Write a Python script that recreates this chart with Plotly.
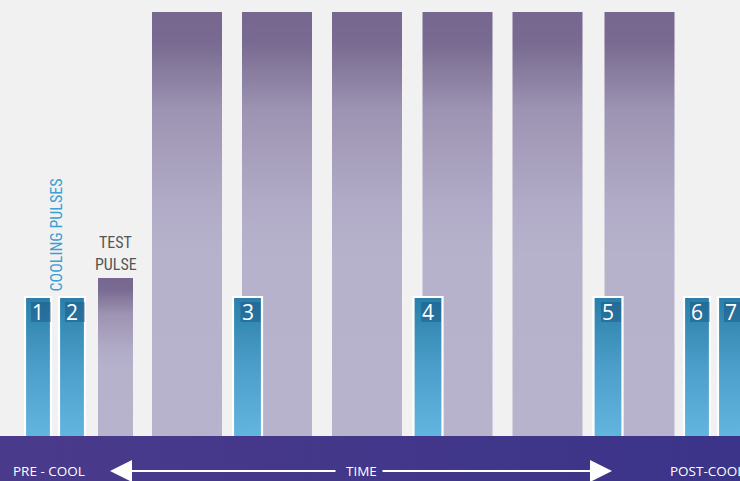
import plotly.graph_objects as go

# ---- data ----
pulse_labels = ["1", "2", "3", "4", "5", "6", "7"]
pulse_times = [38, 72, 247.5, 428, 608, 697, 731]
pulse_widths = [26, 26, 29, 29, 29, 26, 26]
pulse_heights = [139, 139, 139, 139, 139, 139, 139]

treat_times = [187, 277, 367, 457.5, 547.5, 639.5]
treat_width = 70
treat_height = 424

test_time = 115.5
test_width = 35
test_height = 158

band_depth = 45
timeline_start = 0
timeline_end = 740

PURPLE_SCALE = [[0, "#b8b3cd"], [0.42, "#b7b2cc"], [0.56, "#b0aac6"],
                [0.77, "#9d93b2"], [0.93, "#786a90"], [1, "#776790"]]
BLUE_SCALE = [[0, "#62b5df"], [0.5, "#4a9ec9"], [1, "#2a7fa8"]]

fig = go.Figure()


def rect(xc, w, h, scale, line=None, base=0):
    l, r = xc - w / 2, xc + w / 2
    if line:
        xs, ys = [l, l, r, r], [base, h, h, base]
    else:
        xs, ys = [l, l, r, r, l], [base, h, h, base, base]
    fig.add_trace(go.Scatter(
        x=xs, y=ys, fill="toself", mode="lines",
        line=dict(color=line or "rgba(0,0,0,0)", width=2.2 if line else 0),
        fillgradient=dict(type="vertical", colorscale=scale),
        hoverinfo="skip", showlegend=False))


# treatment pulses (tall purple)
for xc in treat_times:
    rect(xc, treat_width, treat_height, PURPLE_SCALE)
# test pulse
rect(test_time, test_width, test_height, PURPLE_SCALE)
# cooling pulses
for xc, w, h in zip(pulse_times, pulse_widths, pulse_heights):
    rect(xc, w, h, BLUE_SCALE, line="#ffffff")

# number shadow squares
fig.add_trace(go.Scatter(
    x=[t + 3 for t in pulse_times], y=[h - 15 for h in pulse_heights],
    mode="markers",
    marker=dict(symbol="square", size=20, color="rgba(16,70,120,0.35)",
                line=dict(width=0)),
    hoverinfo="skip", showlegend=False))

# bottom band
fig.add_trace(go.Scatter(
    x=[timeline_start, timeline_start, timeline_end, timeline_end, timeline_start],
    y=[-band_depth, 0, 0, -band_depth, -band_depth],
    fill="toself", mode="lines", line=dict(width=0, color="rgba(0,0,0,0)"),
    fillgradient=dict(type="horizontal",
                      colorscale=[[0, "#4a3a8b"], [1, "#3b3489"]]),
    hoverinfo="skip", showlegend=False))

ann = []
for lab, xc, h in zip(pulse_labels, pulse_times, pulse_heights):
    ann.append(dict(x=xc, y=h - 15, text=lab, showarrow=False,
                    font=dict(family="Open Sans", size=21, color="#ffffff")))

narrow = "Liberation Sans Narrow, Roboto Condensed, Arial Narrow, sans-serif"
ann.append(dict(x=55.5, y=201, text="COOLING PULSES", textangle=-90,
                showarrow=False,
                font=dict(family=narrow, size=16, color="#3a9fd4")))
ann.append(dict(x=test_time, y=194, text="TEST", showarrow=False,
                font=dict(family=narrow, size=16, color="#555555")))
ann.append(dict(x=test_time, y=172, text="PULSE", showarrow=False,
                font=dict(family=narrow, size=16, color="#555555")))

ylab = -35
bfont = dict(family="Open Sans", size=13.5, color="#ffffff")
ann.append(dict(x=11, y=ylab, text="PRE - COOL", xanchor="left",
                showarrow=False, font=bfont))
ann.append(dict(x=361, y=ylab, text="TIME", showarrow=False, font=bfont))
ann.append(dict(x=668, y=ylab, text="POST-COOL", xanchor="left",
                showarrow=False, font=bfont))
# arrows
ann.append(dict(x=110, y=-35, ax=337, ay=-35, xref="x", yref="y",
                axref="x", ayref="y", text="", showarrow=True,
                arrowhead=2, arrowsize=2.2, arrowwidth=2, arrowcolor="#ffffff"))
ann.append(dict(x=612, y=-35, ax=381, ay=-35, xref="x", yref="y",
                axref="x", ayref="y", text="", showarrow=True,
                arrowhead=2, arrowsize=2.2, arrowwidth=2, arrowcolor="#ffffff"))

fig.update_layout(
    width=740, height=481,
    margin=dict(l=0, r=0, t=0, b=0),
    paper_bgcolor="#f1f1f1", plot_bgcolor="#f1f1f1",
    xaxis=dict(range=[0, 740], visible=False, fixedrange=True),
    yaxis=dict(range=[-45, 436], visible=False, fixedrange=True),
    showlegend=False,
    annotations=ann,
)

fig.write_html("out.html", config={"displayModeBar": False},
               post_script="document.body.style.margin='0';"
                           "document.body.style.overflow='hidden';")
